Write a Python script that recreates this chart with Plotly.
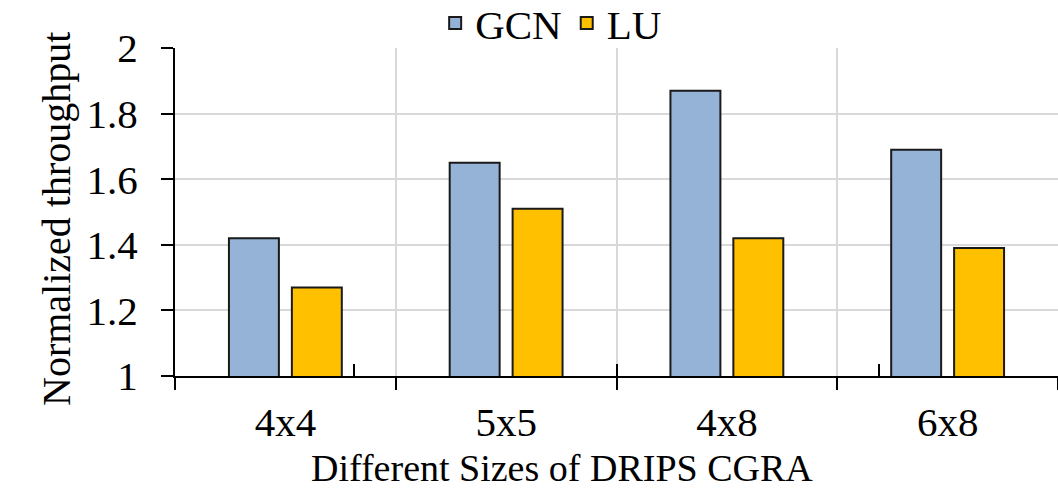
import plotly.graph_objects as go

categories = ["4x4", "5x5", "4x8", "6x8"]
gcn = [1.42, 1.65, 1.87, 1.69]
lu = [1.27, 1.51, 1.42, 1.39]
y_ticks = [1, 1.2, 1.4, 1.6, 1.8, 2]
y_tick_text = ["1", "1.2", "1.4", "1.6", "1.8", "2"]
x_title = "Different Sizes of DRIPS CGRA"
y_title = "Normalized throughput"

FONT = "Times New Roman, Liberation Serif, Tinos, DejaVu Serif, serif"

fig = go.Figure()
fig.add_trace(go.Bar(name="GCN", x=categories, y=gcn,
                     marker=dict(color="#95B3D7", line=dict(color="#1a1a1a", width=2))))
fig.add_trace(go.Bar(name="LU", x=categories, y=lu,
                     marker=dict(color="#FFC000", line=dict(color="#1a1a1a", width=2))))
# invisible helper trace so the second x axis (upward half of boundary ticks) is drawn
fig.add_trace(go.Scatter(x=categories, y=gcn, xaxis="x2", mode="markers",
                         marker=dict(opacity=0), showlegend=False, hoverinfo="skip"))

fig.update_layout(
    width=1058, height=494,
    margin=dict(l=175, r=0, t=48, b=118, autoexpand=False),
    paper_bgcolor="white", plot_bgcolor="white",
    font=dict(family=FONT, size=41, color="black"),
    barmode="group", bargap=0.43, bargroupgap=0.206,
    legend=dict(orientation="h", xref="paper", yref="paper",
                x=0.426, xanchor="center", y=1.177, yanchor="top",
                font=dict(family=FONT, size=41), traceorder="normal",
                bgcolor="rgba(0,0,0,0)"),
    xaxis=dict(
        type="category", tickson="boundaries", showgrid=True,
        gridcolor="#D9D9D9", gridwidth=2,
        showline=True, linecolor="black", linewidth=2,
        ticks="outside", ticklen=12, tickwidth=2, tickcolor="black",
        tickfont=dict(family=FONT, size=41), ticklabelstandoff=9,
    ),
    xaxis2=dict(
        type="category", overlaying="x", anchor="y", side="bottom",
        categoryorder="array", categoryarray=categories,
        tickson="boundaries", showgrid=False, showline=False,
        ticks="inside", ticklen=12, tickwidth=2, tickcolor="black",
        showticklabels=False,
    ),
    yaxis=dict(
        range=[1, 2], tickvals=y_ticks, ticktext=y_tick_text,
        showgrid=True, gridcolor="#D9D9D9", gridwidth=2,
        showline=True, linecolor="black", linewidth=2,
        ticks="outside", ticklen=12, tickwidth=2, tickcolor="black",
        tickfont=dict(family=FONT, size=41), ticklabelstandoff=15,
        zeroline=False,
    ),
    annotations=[
        dict(text=x_title, xref="paper", yref="paper", x=0.438, y=-0.2805,
             xanchor="center", yanchor="middle", showarrow=False,
             font=dict(family=FONT, size=38)),
        dict(text=y_title, xref="paper", yref="paper", x=-0.1335, y=0.479,
             xanchor="center", yanchor="middle", showarrow=False, textangle=-90,
             font=dict(family=FONT, size=40)),
    ],
)

fig.write_html("out.html")
